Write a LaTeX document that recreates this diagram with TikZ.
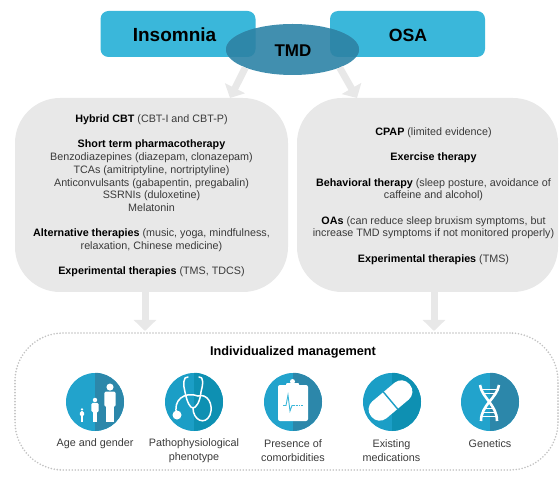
\documentclass[tikz,border=0pt]{standalone}
\usepackage{fontspec}
\setmainfont{Liberation Sans}
\usepackage{xcolor}
\usetikzlibrary{positioning, arrows.meta, shapes.geometric}

\definecolor{boxblue}{HTML}{3AB7DA}
\definecolor{tmdblue}{HTML}{418FAF}
\definecolor{tmddark}{HTML}{2E87A9}
\definecolor{panelgrey}{HTML}{E8E8E8}
\definecolor{bodygrey}{HTML}{3A3A3A}
\definecolor{iconlight}{HTML}{22A3CC}
\definecolor{icondark}{HTML}{2C87AA}
\definecolor{pilllight}{HTML}{1B9EC6}
\definecolor{pilldark}{HTML}{0E90B2}

\tikzset{
    topbox/.style={fill=boxblue, rounded corners=8pt, minimum width=155pt, minimum height=46pt},
    panel/.style={fill=panelgrey, rounded corners=45pt},
    paneltext/.style={align=center, font=\fontsize{10.75}{12.7}\selectfont, text=bodygrey},
    flowarrow/.style={draw=panelgrey, line width=7pt, -{Triangle[width=22pt, length=11pt]}},
    badge/.style={circle, minimum size=58pt, inner sep=0pt},
    caption/.style={align=center, font=\fontsize{10.8}{13.5}\selectfont, text=bodygrey},
    iconline/.style={draw=white, line width=1.5pt, line cap=round, line join=round},
}

\begin{document}
\begin{tikzpicture}[x=1pt, y=-1pt]
        \useasboundingbox (0,0) rectangle (560,481);

        % Top boxes
        \node[topbox] (insomnia) at (178,34) {};
        \node[topbox] (osa) at (407.5,34) {};

        % Panels
        \node[panel, minimum width=273pt, minimum height=194pt] (cbtpanel) at (151.5,195) {};
        \node[panel, minimum width=261pt, minimum height=194pt] (cpappanel) at (427.5,195) {};

        % Arrow ends
        \coordinate (ltip) at (230,98);
        \coordinate (rtip) at (357,98);
        \coordinate (ldown) at (145,331);
        \coordinate (rdown) at (434,331);

        % TMD ellipse, darker where it lies on the boxes
        \node[ellipse, fill=tmdblue, minimum width=133pt, minimum height=51pt, inner sep=0pt] (tmd) at (292.5,49.5) {};
        \begin{scope}
            \clip (292.5,49.5) ellipse [x radius=66.5, y radius=25.5];
            \fill[tmddark, rounded corners=8pt] (100,11) rectangle (255.5,57);
            \fill[tmddark, rounded corners=8pt] (330,11) rectangle (485,57);
        \end{scope}

        \draw[flowarrow] (tmd.south west) -- (ltip);
        \draw[flowarrow] (tmd.south east) -- (rtip);
        \draw[flowarrow] (cbtpanel.south -| ldown) -- (ldown);
        \draw[flowarrow] (cpappanel.south -| rdown) -- (rdown);

        % Titles
        \node[font=\fontsize{19}{19}\selectfont\bfseries] at (174.5,35) {Insomnia};
        \node[font=\fontsize{17.7}{18}\selectfont\bfseries] at (408,35) {OSA};
        \node[font=\fontsize{17}{18}\selectfont\bfseries] at (293,51) {TMD};

        % Panel text
        \node[paneltext] (cbttext) at (151.5,196) {\textcolor{black}{\textbf{Hybrid CBT}} (CBT-I and CBT-P)\\[12.7pt]
            \textcolor{black}{\textbf{Short term pharmacotherapy}}\\
            Benzodiazepines (diazepam, clonazepam)\\
            TCAs (amitriptyline, nortriptyline)\\
            Anticonvulsants (gabapentin, pregabalin)\\
            SSRNIs (duloxetine)\\
            Melatonin\\[12.7pt]
            \textcolor{black}{\textbf{Alternative therapies}} (music, yoga, mindfulness,\\
            relaxation, Chinese medicine)\\[12.7pt]
            \textcolor{black}{\textbf{Experimental therapies}} (TMS, TDCS)};
        \node[paneltext] (cpaptext) at (433.5,196) {\textcolor{black}{\textbf{CPAP}} (limited evidence)\\[12.7pt]
            \textcolor{black}{\textbf{Exercise therapy}}\\[12.7pt]
            \textcolor{black}{\textbf{Behavioral therapy}} (sleep posture, avoidance of\\
            caffeine and alcohol)\\[12.7pt]
            \textcolor{black}{\textbf{OAs}} (can reduce sleep bruxism symptoms, but\\
            increase TMD symptoms if not monitored properly)\\[12.7pt]
            \textcolor{black}{\textbf{Experimental therapies}} (TMS)};

        % Management frame
        \node[draw=black!24, line width=1.8pt, dash pattern=on 0pt off 3pt, line cap=round, rounded corners=48pt,
            minimum width=543pt, minimum height=137pt] (frame) at (286.5,401.5) {};
        \node[font=\fontsize{12.7}{14}\selectfont\bfseries] (mgmt) at (293,352) {Individualized management};

        % Badges
        \foreach \x/\name/\lc/\dc in {95/age/iconlight/icondark, 194/patho/pilllight/pilldark, 293/comorb/iconlight/icondark, 392/meds/pilllight/pilldark, 490/genes/iconlight/icondark}{
            \node[badge, fill=\lc] (\name) at (\x,402) {};
            \fill[\dc] (\name.north) arc[start angle=90, end angle=-90, radius=29pt] -- cycle;
        }

        % Age and gender figures
        \foreach \x/\y/\s in {82/416/0.45, 95/411.6/0.8, 110/405.5/1.27}{
            \begin{scope}[shift={(\x,\y)}, scale=\s]
                \fill[white] (0,-14.5) circle (2.8);
                \fill[white, rounded corners=1.5pt] (-4.5,-11) rectangle (4.5,1);
                \fill[white] (-3,0) rectangle (-0.2,13);
                \fill[white] (0.2,0) rectangle (3,13);
            \end{scope}
        }

        % Stethoscope
        \draw[iconline] (188,377) .. controls (183,376) and (183,385) .. (185,392) .. controls (187,402) and (190,408) .. (193,408) .. controls (196,408) and (200,402) .. (201,392) .. controls (203,385) and (204,376) .. (199,377);
        \draw[iconline] (193,408) .. controls (193,420) and (205,426) .. (210,415) .. controls (214,404) and (207,393) .. (198,396);
        \draw[iconline] (198,396) .. controls (185,391) and (172,400) .. (177,415);
        \fill[white] (177,415) circle (4.5);

        % Clipboard
        \fill[white, rounded corners=2pt] (278,385) rectangle (308,421);
        \fill[white, rounded corners=1pt] (286,383) rectangle (299,388.5);
        \fill[white] (292.5,381.5) circle (2.5);
        \draw[boxblue, line width=0.9pt] (283,405.5) -- (286,405.5) -- (288,395) -- (290,411) -- (292,405.5) -- (295,405.5);
        \draw[boxblue, line width=0.9pt, dash pattern=on 1.5pt off 1.2pt] (296,405.5) -- (303,405.5);

        % Pill
        \begin{scope}[shift={(390.5,400.5)}, rotate=40]
            \fill[white, rounded corners=10.5pt] (-25,-11) rectangle (25,11);
            \draw[pilllight, line width=1.4pt] (0,-11) -- (0,11);
        \end{scope}

        % DNA
        \draw[white, line width=2.6pt] (480,385) .. controls (482,398) and (497,405) .. (497,421);
        \draw[white, line width=2.6pt] (499,385) .. controls (497,398) and (481,405) .. (481,421);
        \foreach \y/\a/\b in {389/481/498, 393/483/496, 408/484/494, 412/482/496, 416/481/497}{
            \draw[white, line width=1pt] (\a,\y) -- (\b,\y);
        }

        % Captions
        \node[caption] at (95,443.5) {Age and gender};
        \node[caption] at (194,450.5) {Pathophysiological\\phenotype};
        \node[caption] at (293,450.5) {Presence of\\comorbidities};
        \node[caption] at (391.5,450.5) {Existing\\medications};
        \node[caption] at (490,443.5) {Genetics};
    \end{tikzpicture}
\end{document}
